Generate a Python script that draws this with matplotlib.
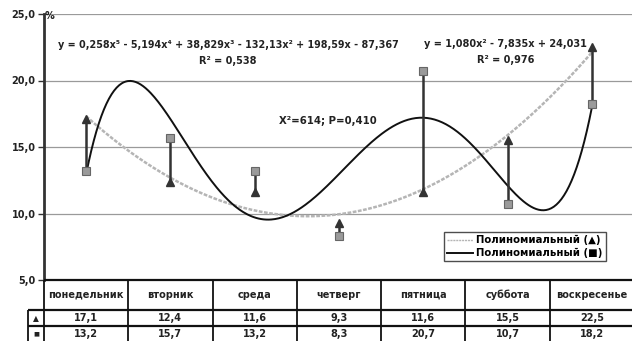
import numpy as np
import matplotlib
matplotlib.use("Agg")
import matplotlib.pyplot as plt
from matplotlib.lines import Line2D

categories = ["понедельник", "вторник", "среда", "четверг", "пятница", "суббота", "воскресенье"]
tri_vals = [17.1, 12.4, 11.6, 9.3, 11.6, 15.5, 22.5]
sq_vals = [13.2, 15.7, 13.2, 8.3, 20.7, 10.7, 18.2]
tri_labels = ["17,1", "12,4", "11,6", "9,3", "11,6", "15,5", "22,5"]
sq_labels = ["13,2", "15,7", "13,2", "8,3", "20,7", "10,7", "18,2"]
yticks = [5, 10, 15, 20, 25]
ytick_labels = ["5,0", "10,0", "15,0", "20,0", "25,0"]

W, H = 632, 341
fig = plt.figure(figsize=(W / 100, H / 100), dpi=100)
plt.rcParams['font.family'] = ['DejaVu Sans']
FS = 7.0

x = np.arange(1, len(categories) + 1)
tri = np.array(tri_vals)
sq = np.array(sq_vals)

L = 44 / W
axw = 590 / W
axB = 1 - 280 / H
axT = 1 - 14 / H
ax = fig.add_axes([L, axB, axw, axT - axB])
ax.set_xlim(0.5, 7.5)
ax.set_ylim(5, 25)

for y in [10, 15, 20, 25]:
    ax.axhline(y, color="#9a9a9a", lw=0.9, zorder=0)

ax.set_yticks(yticks)
ax.set_yticklabels(ytick_labels, fontsize=FS, fontweight="bold", color="#222")
ax.tick_params(axis="y", direction="out", length=4, width=1, color="#333", pad=2)
ax.set_xticks([])
for s in ["top", "right", "bottom"]:
    ax.spines[s].set_visible(False)
ax.spines["left"].set_linewidth(2)
ax.spines["left"].set_color("#333")

xs = np.linspace(1, 7, 400)
ptri = np.polyfit(x, tri, 2)
psq = np.polyfit(x, sq, 5)
ax.plot(xs, np.polyval(ptri, xs), color="#b5b5b5", lw=1.8, ls=(0, (1.5, 0.6)), zorder=2)
ax.plot(xs, np.polyval(psq, xs), color="#111", lw=1.4, zorder=3)

ax.vlines(x, np.minimum(tri, sq), np.maximum(tri, sq), color="#333", lw=1.8, zorder=4)
ax.plot(x, sq, ls="none", marker="s", ms=5.5, mfc="#9a9a9a", mec="#666", mew=0.8, zorder=5)
ax.plot(x, tri, ls="none", marker="^", ms=6, mfc="#333", mec="#333", zorder=6)

def ftxt(px, py, s, ha="center", size=FS):
    fig.text(px / W, 1 - py / H, s, ha=ha, va="center", fontsize=size, fontweight="bold", color="#222")

ftxt(45, 16, "%", ha="left")
ftxt(58, 45, "y = 0,258x⁵ - 5,194x⁴ + 38,829x³ - 132,13x² + 198,59x - 87,367", ha="left", size=6.9)
ftxt(228, 61, "R² = 0,538")
ftxt(505, 44, "y = 1,080x² - 7,835x + 24,031")
ftxt(506, 60, "R² = 0,976")
ftxt(328, 121, "X²=614; P=0,410", size=7.3)

handles = [Line2D([], [], color="#b5b5b5", lw=1.0, ls=(0, (1.5, 0.6))),
           Line2D([], [], color="#111", lw=1.4)]
leg = fig.legend(handles, ["Полиномиальный (▲)", "Полиномиальный (■)"],
                 loc="upper left", bbox_to_anchor=(444 / W, 1 - 232 / H),
                 prop={"size": 7.3, "weight": "bold"}, frameon=True, fancybox=False,
                 edgecolor="#222", handlelength=2.6, handletextpad=0.3,
                 borderpad=0.3, labelspacing=0.3, borderaxespad=0)
leg.get_frame().set_linewidth(1.0)

# data table
tax = fig.add_axes([L, 0, axw, 61 / H])
tax.set_xlim(0.5, 7.5)
tax.set_ylim(341, 280)
tax.axis("off")
x0 = 0.5 - 16 / 84.3
lc = "#111"
tax.hlines([280.5], 0.5, 7.5, color=lc, lw=1.6, clip_on=False)
tax.hlines([310.5, 326.5], x0, 7.5, color=lc, lw=1.6, clip_on=False)
tax.vlines(np.arange(0.5, 8.5, 1), 280, 341, color=lc, lw=1.3, clip_on=False)
tax.vlines([x0], 310.5, 341, color=lc, lw=1.3, clip_on=False)
for i, c in enumerate(categories):
    tax.text(x[i], 295, c, ha="center", va="center", fontsize=FS, fontweight="bold", color="#222", clip_on=False)
    tax.text(x[i], 318.5, tri_labels[i], ha="center", va="center", fontsize=FS, fontweight="bold", color="#222", clip_on=False)
    tax.text(x[i], 334, sq_labels[i], ha="center", va="center", fontsize=FS, fontweight="bold", color="#222", clip_on=False)
tax.text((x0 + 0.5) / 2, 318.5, "▲", ha="center", va="center", fontsize=5.5, color="#222", clip_on=False)
tax.text((x0 + 0.5) / 2, 334, "■", ha="center", va="center", fontsize=4.5, color="#222", clip_on=False)

fig.savefig("out.png", dpi=100)
